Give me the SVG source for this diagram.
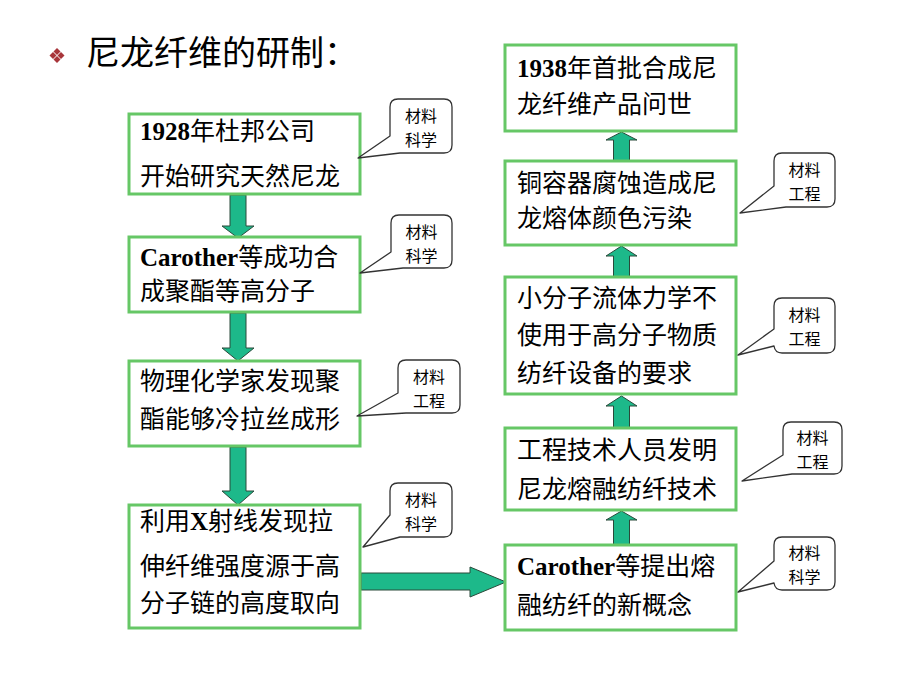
<svg xmlns="http://www.w3.org/2000/svg" width="920" height="690" viewBox="0 0 920 690">
<style>
.box{fill:#fff;stroke:#66C766;stroke-width:3}
.t{font-family:"Noto Sans CJK SC","Liberation Sans",sans-serif;font-size:25px;fill:#000}
.b{font-family:"Liberation Serif",serif;font-weight:bold}
.co{fill:#fff;stroke:#333;stroke-width:1.3;stroke-linejoin:round}
.ct{font-family:"Noto Sans CJK SC","Liberation Sans",sans-serif;font-size:16px;fill:#000;text-anchor:middle}
.ar{fill:#1DB98A;stroke:#2a4a3a;stroke-width:1}
.title{font-family:"Noto Sans CJK SC","Liberation Sans",sans-serif;font-size:34px;fill:#000}
</style>
<rect width="920" height="690" fill="#fff"/>
<g id="title">
<g fill="#A8353A">
<path d="M57,48 L60.5,51.5 L57,55 L53.5,51.5 Z"/>
<path d="M57,56 L60.5,59.5 L57,63 L53.5,59.5 Z"/>
<path d="M53,52 L56.5,55.5 L53,59 L49.5,55.5 Z"/>
<path d="M61,52 L64.5,55.5 L61,59 L57.5,55.5 Z"/>
</g>
<text class="title" x="86" y="65">尼龙纤维的研制：</text>
</g>
<g id="connectors">
<path class="ar" d="M230,195 H246 V226 H254 L238,238 L222,226 H230 Z"/>
<path class="ar" d="M230,313 H246 V348 H254 L238,361 L222,348 H230 Z"/>
<path class="ar" d="M230,447 H246 V491 H254 L238,505 L222,491 H230 Z"/>
<path class="ar" d="M361,573 H470 V567 L506,582 L470,597 V590 H361 Z"/>
<path class="ar" d="M613.5,545 V520 H606 L621.5,511 L637,520 H629.5 V545 Z"/>
<path class="ar" d="M613.5,428 V406 H606 L621.5,396 L637,406 H629.5 V428 Z"/>
<path class="ar" d="M613.5,277 V256 H606 L621.5,246 L637,256 H629.5 V277 Z"/>
<path class="ar" d="M613.5,161 V140 H606 L621.5,132 L637,140 H629.5 V161 Z"/>
</g>
<g id="L1">
<rect class="box" x="129" y="114" width="231" height="80"/>
<text class="t" x="140" y="140"><tspan class="b">1928</tspan>年杜邦公司</text>
<text class="t" x="140" y="185">开始研究天然尼龙</text>
</g>
<g id="L2">
<rect class="box" x="129" y="237" width="231" height="75"/>
<text class="t" x="140" y="266"><tspan class="b">Carother</tspan>等成功合</text>
<text class="t" x="140" y="300">成聚酯等高分子</text>
</g>
<g id="L3">
<rect class="box" x="129" y="361" width="231" height="85"/>
<text class="t" x="140" y="390">物理化学家发现聚</text>
<text class="t" x="140" y="428">酯能够冷拉丝成形</text>
</g>
<g id="L4">
<rect class="box" x="129" y="505" width="231" height="123"/>
<text class="t" x="140" y="530">利用<tspan class="b">X</tspan>射线发现拉</text>
<text class="t" x="140" y="575">伸纤维强度源于高</text>
<text class="t" x="140" y="612">分子链的高度取向</text>
</g>
<g id="R1">
<rect class="box" x="505" y="45" width="231" height="86"/>
<text class="t" x="517" y="77"><tspan class="b">1938</tspan>年首批合成尼</text>
<text class="t" x="517" y="113">龙纤维产品问世</text>
</g>
<g id="R2">
<rect class="box" x="505" y="161" width="231" height="84"/>
<text class="t" x="517" y="192">铜容器腐蚀造成尼</text>
<text class="t" x="517" y="227">龙熔体颜色污染</text>
</g>
<g id="R3">
<rect class="box" x="505" y="277" width="231" height="117"/>
<text class="t" x="517" y="307">小分子流体力学不</text>
<text class="t" x="517" y="344">使用于高分子物质</text>
<text class="t" x="517" y="382">纺纤设备的要求</text>
</g>
<g id="R4">
<rect class="box" x="505" y="428" width="231" height="82"/>
<text class="t" x="517" y="459">工程技术人员发明</text>
<text class="t" x="517" y="498">尼龙熔融纺纤技术</text>
</g>
<g id="R5">
<rect class="box" x="505" y="545" width="231" height="85"/>
<text class="t" x="517" y="575"><tspan class="b">Carother</tspan>等提出熔</text>
<text class="t" x="517" y="614">融纺纤的新概念</text>
</g>
<g id="C1">
<path class="co" d="M398,99 H444 Q452,99 452,107 V145 Q452,153 444,153 H400 L358,158 L390,136 V107 Q390,99 398,99 Z"/>
<text class="ct" x="421" y="122">材料</text><text class="ct" x="421" y="146">科学</text>
</g>
<g id="C2">
<path class="co" d="M399,215 H444 Q452,215 452,223 V260 Q452,268 444,268 H403 L360,273 L391,252 V223 Q391,215 399,215 Z"/>
<text class="ct" x="421.5" y="238">材料</text><text class="ct" x="421.5" y="262">科学</text>
</g>
<g id="C3">
<path class="co" d="M406,360 H452 Q460,360 460,368 V405 Q460,413 452,413 H406 L357,416 L398,393 V368 Q398,360 406,360 Z"/>
<text class="ct" x="429" y="383">材料</text><text class="ct" x="429" y="407">工程</text>
</g>
<g id="C4">
<path class="co" d="M398,483 H444 Q452,483 452,491 V529 Q452,537 444,537 H400 L363,547 L390,515 V491 Q390,483 398,483 Z"/>
<text class="ct" x="421" y="506">材料</text><text class="ct" x="421" y="530">科学</text>
</g>
<g id="C5">
<path class="co" d="M782,153 H827 Q835,153 835,161 V199 Q835,207 827,207 H786 L740,213 L774,186 V161 Q774,153 782,153 Z"/>
<text class="ct" x="804.5" y="176">材料</text><text class="ct" x="804.5" y="200">工程</text>
</g>
<g id="C6">
<path class="co" d="M782,298 H827 Q835,298 835,306 V345 Q835,353 827,353 H782 Q775,353 774,346 L738,355 L774,329 V306 Q774,298 782,298 Z"/>
<text class="ct" x="804.5" y="321">材料</text><text class="ct" x="804.5" y="345">工程</text>
</g>
<g id="C7">
<path class="co" d="M791,422 H834 Q842,422 842,430 V466 Q842,474 834,474 H792 L742,481 L783,455 V430 Q783,422 791,422 Z"/>
<text class="ct" x="812.5" y="444">材料</text><text class="ct" x="812.5" y="468">工程</text>
</g>
<g id="C8">
<path class="co" d="M782,537 H827 Q835,537 835,545 V582 Q835,590 827,590 H782 Q775,590 774,583 L738,592 L774,561 V545 Q774,537 782,537 Z"/>
<text class="ct" x="804.5" y="559">材料</text><text class="ct" x="804.5" y="583">科学</text>
</g>
</svg>
